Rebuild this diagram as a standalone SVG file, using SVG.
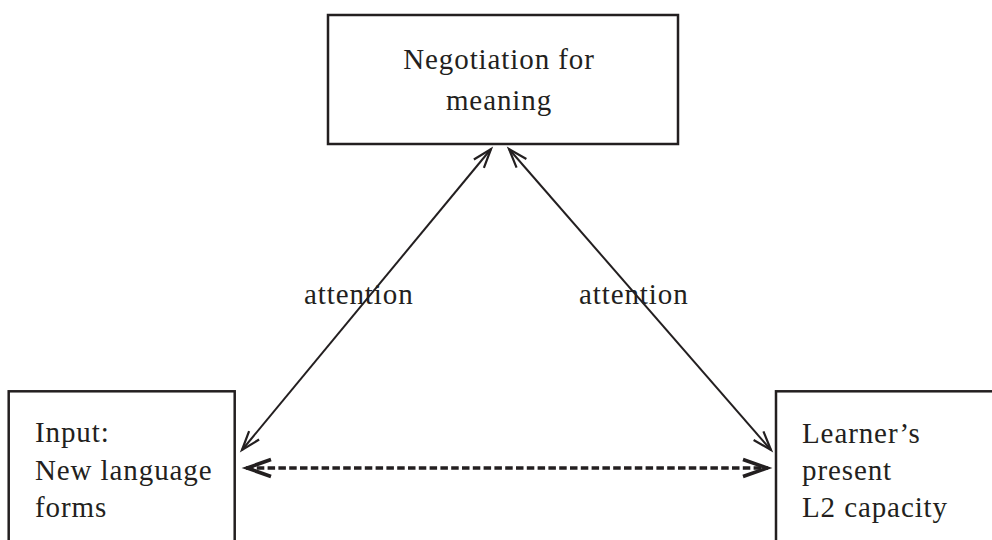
<svg xmlns="http://www.w3.org/2000/svg" width="992" height="540" viewBox="0 0 992 540">
<style>
  .box { fill: #ffffff; stroke: #231f20; stroke-width: 2.5; }
  .lbl { font-family: "Liberation Serif", "Times New Roman", serif; font-size: 29px; fill: #231f20; letter-spacing: 0.9px; }
  .conn { stroke: #231f20; stroke-width: 2; fill: none; }
  .dash { stroke: #231f20; stroke-width: 3.3; fill: none; stroke-dasharray: 7.5 3.3; }
</style>
<defs>
  <marker id="headSolid" markerUnits="userSpaceOnUse" viewBox="-22 -10 24 20" refX="0" refY="0" markerWidth="24" markerHeight="20" orient="auto-start-reverse" overflow="visible">
    <path d="M-19,-6.5 L0,0 L-19,6.5" fill="none" stroke="#231f20" stroke-width="2.2" stroke-linejoin="miter"/>
  </marker>
  <marker id="headDash" markerUnits="userSpaceOnUse" viewBox="-28 -12 30 24" refX="0" refY="0" markerWidth="30" markerHeight="24" orient="auto-start-reverse" overflow="visible">
    <path d="M-25,-8.5 L-1,0 L-25,8.5" fill="none" stroke="#231f20" stroke-width="3.6" stroke-linejoin="miter"/>
  </marker>
</defs>

<g id="connectors">
  <line class="conn" x1="491" y1="149" x2="242" y2="450" marker-start="url(#headSolid)" marker-end="url(#headSolid)"/>
  <line class="conn" x1="509" y1="149" x2="771" y2="450" marker-start="url(#headSolid)" marker-end="url(#headSolid)"/>
  <line class="dash" x1="246" y1="468" x2="768" y2="468" marker-start="url(#headDash)" marker-end="url(#headDash)"/>
  <text class="lbl" x="304" y="304">attention</text>
  <text class="lbl" x="579" y="304">attention</text>
</g>

<g id="node-negotiation">
  <rect class="box" x="328" y="15" width="350" height="129"/>
  <text class="lbl" x="499" y="69" text-anchor="middle">Negotiation for</text>
  <text class="lbl" x="499" y="110" text-anchor="middle">meaning</text>
</g>

<g id="node-input">
  <rect class="box" x="8.7" y="391.3" width="226" height="200"/>
  <text class="lbl" x="35" y="442">Input:</text>
  <text class="lbl" x="35" y="480">New language</text>
  <text class="lbl" x="35" y="517">forms</text>
</g>

<g id="node-learner">
  <rect class="box" x="776" y="391.3" width="260" height="200"/>
  <text class="lbl" x="802" y="443">Learner’s</text>
  <text class="lbl" x="802" y="480">present</text>
  <text class="lbl" x="802" y="517">L2 capacity</text>
</g>
</svg>
